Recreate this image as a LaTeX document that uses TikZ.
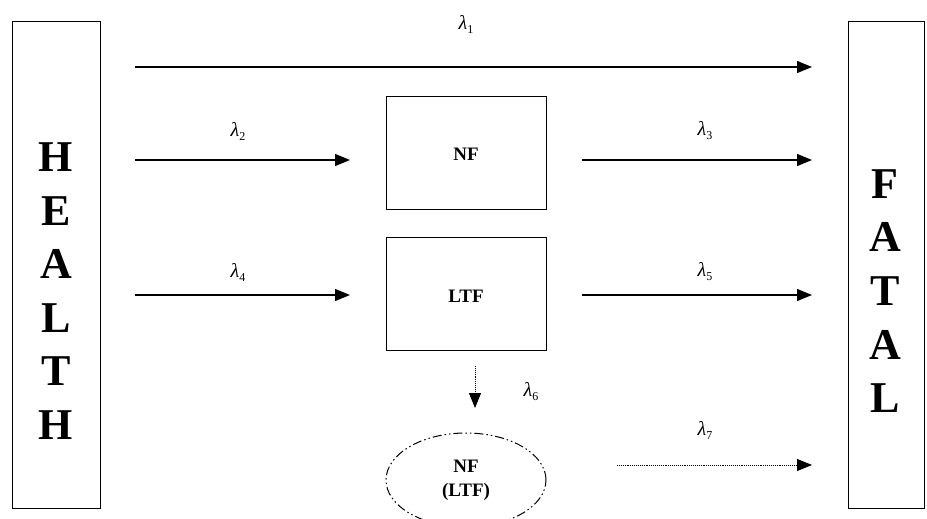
\documentclass[tikz,border=0pt]{standalone}
\usepackage{fontspec}
\setmainfont{Liberation Serif}
\usetikzlibrary{arrows.meta}
\newcommand{\lam}[1]{{\itshape λ}\raisebox{-4pt}{\fontsize{12}{12}\selectfont #1}}
\begin{document}
\begin{tikzpicture}[x=1pt,y=-1pt,
  box/.style={draw,line width=0.9pt,inner sep=0pt},
  flow/.style={line width=1.3pt,-{Triangle[length=15pt,width=12pt]}},
  dotflow/.style={line width=0.9pt,densely dotted,-{Triangle[length=15pt,width=12pt]}},
  lab/.style={font=\fontsize{20}{20}\selectfont},
  big/.style={font=\fontsize{44}{53.6}\selectfont\bfseries,align=center},
  mid/.style={font=\fontsize{19}{24}\selectfont\bfseries,align=center}]
\useasboundingbox (0,0) rectangle (927,519);
\node[box,minimum width=88pt,minimum height=487pt] (health) at (56,264.5) {};
\node[box,minimum width=76pt,minimum height=487pt] (fatal) at (886,264.5) {};
\node[big] (healthtxt) at (56,291) {H\\E\\A\\L\\T\\H};
\node[big] (fataltxt) at (885,291) {F\\A\\T\\A\\L};
\node[box,minimum width=160pt,minimum height=113pt] (nf) at (466,152.5) {};
\node[mid] (nftxt) at (466,154) {NF};
\node[box,minimum width=160pt,minimum height=113pt] (ltf) at (466,293.5) {};
\node[mid] (ltftxt) at (466,296) {LTF};
\draw[line width=1pt,dash pattern=on 9pt off 3pt on 1.5pt off 3pt on 1.5pt off 3pt]
  (466,480) ellipse [x radius=80pt,y radius=47pt];
\node[mid] (nfltf) at (466,480) {NF\\(LTF)};
% coordinates
\coordinate (a1s) at (135,67); \coordinate (a1e) at (812,67);
\coordinate (a2s) at (135,160); \coordinate (a2e) at (350,160);
\coordinate (a3s) at (582,160); \coordinate (a3e) at (812,160);
\coordinate (a4s) at (135,295); \coordinate (a4e) at (350,295);
\coordinate (a5s) at (582,295); \coordinate (a5e) at (812,295);
\coordinate (a6s) at (475,366); \coordinate (a6e) at (475,408);
\coordinate (a7s) at (617,465); \coordinate (a7e) at (812,465);
\draw[flow] (a1s) -- (a1e);
\draw[flow] (a2s) -- (a2e);
\draw[flow] (a3s) -- (a3e);
\draw[flow] (a4s) -- (a4e);
\draw[flow] (a5s) -- (a5e);
\draw[dotflow] (a6s) -- (a6e);
\draw[dotflow] (a7s) -- (a7e);
\node[lab] (l1) at (466,24) {\lam{1}};
\node[lab] (l2) at (238,131) {\lam{2}};
\node[lab] (l3) at (705,131) {\lam{3}};
\node[lab] (l4) at (238,272) {\lam{4}};
\node[lab] (l5) at (705,272) {\lam{5}};
\node[lab] (l6) at (531,392) {\lam{6}};
\node[lab] (l7) at (705,430) {\lam{7}};
\end{tikzpicture}
\end{document}
